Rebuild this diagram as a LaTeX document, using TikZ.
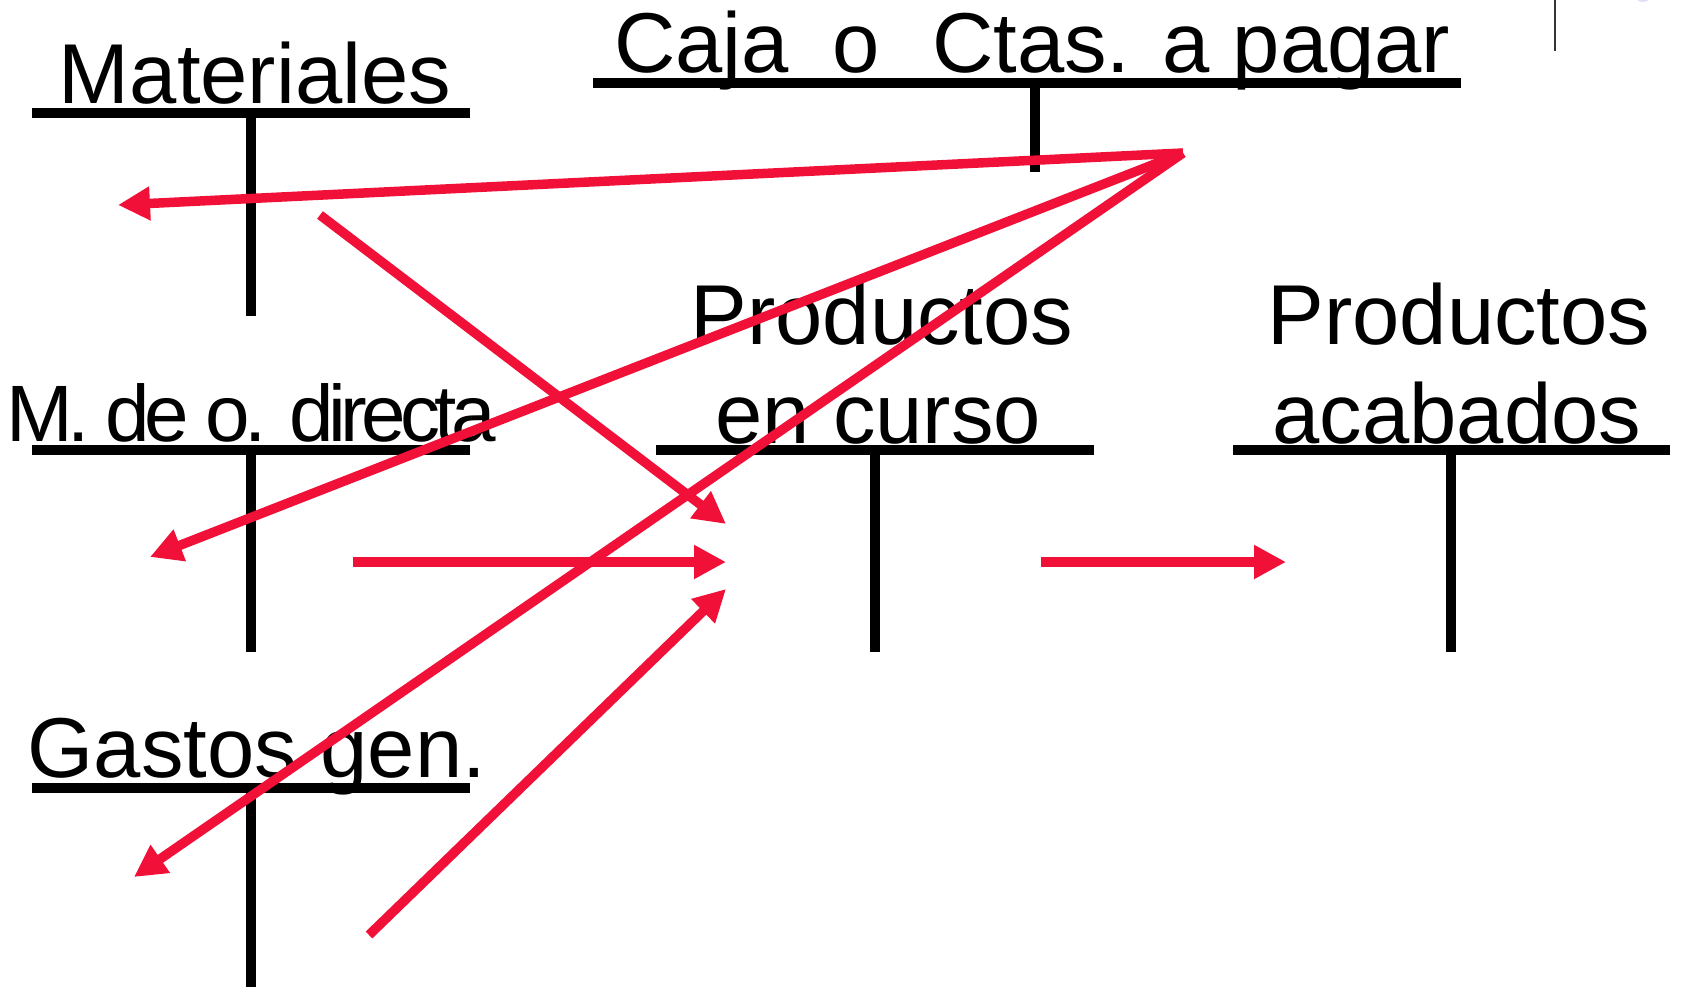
\documentclass[tikz,border=0pt]{standalone}
\usepackage{fontspec}
\setmainfont{Liberation Sans}
\newfontfamily\tightfont[LetterSpace=-7]{Liberation Sans}
\usetikzlibrary{arrows.meta}
\definecolor{arr}{RGB}{240,16,56}
\definecolor{lav}{RGB}{222,222,246}
\begin{document}
\begin{tikzpicture}[x=1pt,y=-1pt,
  acct/.style={line width=9.5pt, draw=black},
  flow/.style={line width=9.5pt, draw=arr, -{Triangle[length=32pt,width=32pt]}},
  lbl/.style={anchor=base, inner sep=0pt, font=\fontsize{85}{92}\selectfont}]
\useasboundingbox (0,0) rectangle (1681,987);
% faint marks at top right
\draw[line width=1.5pt, draw=black!80] (1555,0) -- (1555,51);
\fill[lav] (1643,-8) circle (10);
% T-accounts
\draw[acct] (32,113) -- (470,113); \draw[acct] (251,113) -- (251,316);
\draw[acct] (593,83) -- (1461,83); \draw[acct] (1035,83) -- (1035,172);
\draw[acct] (32,450) -- (470,450); \draw[acct] (251,450) -- (251,652);
\draw[acct] (656,450) -- (1094,450); \draw[acct] (875,450) -- (875,652);
\draw[acct] (1233,450) -- (1670,450); \draw[acct] (1451,450) -- (1451,652);
\draw[acct] (32,788) -- (470,788); \draw[acct] (251,788) -- (251,987);
% labels
\node[lbl] (mat) at (255,104) {Materiales};
\node[lbl, anchor=base west] (caja) at (614,73) {Caja\hspace{44pt}o\hspace{52pt}Ctas. a pagar};
\node[lbl, font=\tightfont\fontsize{80}{88}\selectfont] (mod) at (251,441) {M. de o. directa};
\node[lbl] (pec1) at (882,344) {Productos};
\node[lbl] (pec2) at (878,443) {en curso};
\node[lbl] (pa1) at (1459,344) {Productos};
\node[lbl] (pa2) at (1457,443) {acabados};
\node[lbl] (gg) at (257,777) {Gastos gen.};
% connector end points
\coordinate (src) at (1183,153);
\coordinate (matIn) at (118,205);
\coordinate (modIn) at (150,557);
\coordinate (ggIn) at (134,877);
\coordinate (matOut) at (320,215);
\coordinate (modOut) at (353,562);
\coordinate (ggOut) at (369,935);
\coordinate (pecIn1) at (726,524);
\coordinate (pecIn2) at (726,562);
\coordinate (pecIn3) at (726,589);
\coordinate (pecOut) at (1041,562);
\coordinate (paIn) at (1286,562);
% flows
\draw[flow] (src) -- (matIn);
\draw[flow] (src) -- (modIn);
\draw[flow] (src) -- (ggIn);
\draw[flow] (matOut) -- (pecIn1);
\draw[flow] (modOut) -- (pecIn2);
\draw[flow] (ggOut) -- (pecIn3);
\draw[flow] (pecOut) -- (paIn);
\end{tikzpicture}
\end{document}
